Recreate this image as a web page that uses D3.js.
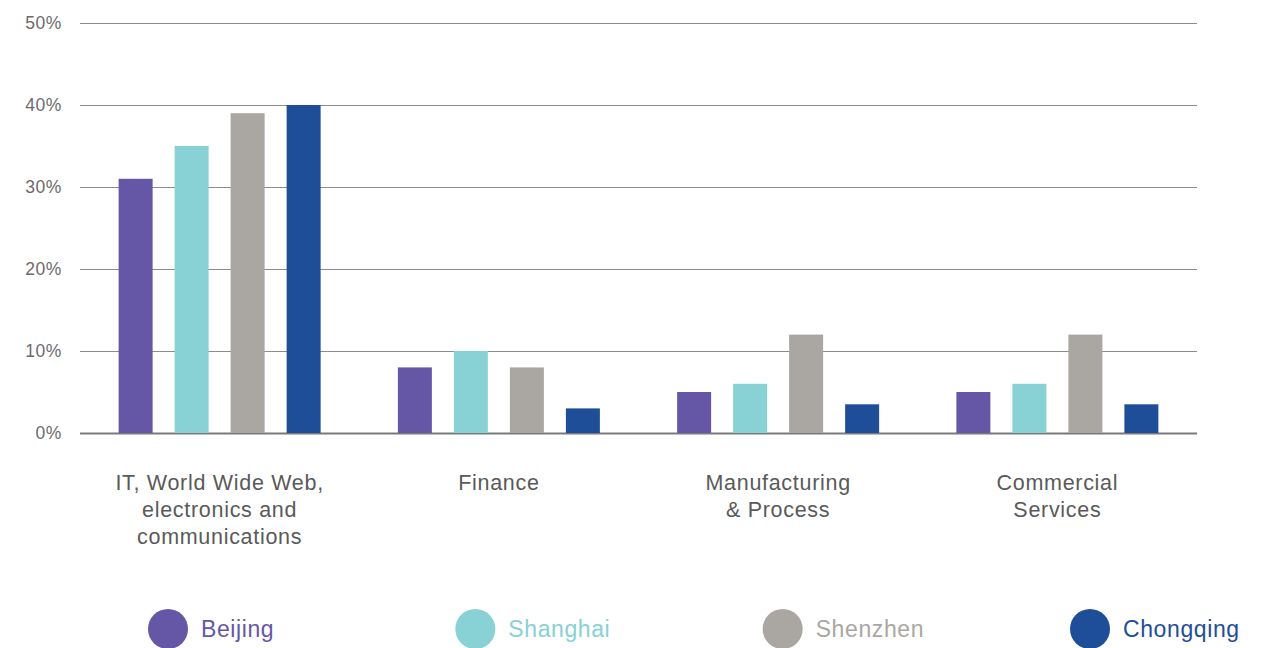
<!DOCTYPE html>
<html>
<head>
<meta charset="utf-8">
<script src="https://cdn.jsdelivr.net/npm/d3@7"></script>
<style>
  html, body { margin: 0; padding: 0; background: #fff; }
  svg { display: block; }
</style>
</head>
<body>
<svg id="chart" width="1274" height="648"></svg>
<script>
const categories = [
  ["IT, World Wide Web,", "electronics and", "communications"],
  ["Finance"],
  ["Manufacturing", "& Process"],
  ["Commercial", "Services"]
];
const seriesNames = ["Beijing", "Shanghai", "Shenzhen", "Chongqing"];
const seriesColors = ["#6657a6", "#88d1d4", "#aaa7a3", "#1f4e99"];
const beijing   = [31, 8, 5, 5];
const shanghai  = [35, 10, 6, 6];
const shenzhen  = [39, 8, 12, 12];
const chongqing = [40, 3, 3.5, 3.5];
const yTicks = [0, 10, 20, 30, 40, 50];

const seriesValues = [beijing, shanghai, shenzhen, chongqing];
const svg = d3.select("#chart");
const font = "'Liberation Sans', Helvetica, Arial, sans-serif";

const mLeft = 80, mRight = 1197, mTop = 23, mBottom = 433;
const catKeys = categories.map((c, i) => i);
const x0 = d3.scaleBand().domain(catKeys).range([mLeft, mRight]).padding(0);
const y = d3.scaleLinear().domain([0, 50]).range([mBottom, mTop]);
const groupW = 202;
const x1 = d3.scaleBand().domain(seriesNames).range([0, groupW]).paddingInner(0.393).paddingOuter(0);

// gridlines
const yAxis = d3.axisLeft(y).tickValues(yTicks).tickSize(-(mRight - mLeft)).tickFormat(d => d + "%");
const gy = svg.append("g").attr("transform", `translate(${mLeft},0)`).call(yAxis);
gy.select(".domain").remove();
gy.selectAll(".tick line").attr("stroke", "#8c8c8c").attr("stroke-width", 1.2);
gy.selectAll(".tick").filter(d => d === 0).select("line").attr("stroke", "#7a7a7a").attr("stroke-width", 2);
gy.selectAll(".tick text")
  .attr("x", -18)
  .attr("fill", "#6b6b6b")
  .style("font-family", font)
  .style("font-size", "17.5px")
  .style("letter-spacing", "0.6px");

// bars
const groups = svg.append("g").selectAll("g").data(catKeys).join("g")
  .attr("transform", d => `translate(${x0(d) + x0.bandwidth() / 2 - groupW / 2},0)`);
groups.selectAll("rect")
  .data(ci => seriesNames.map((s, si) => ({ s, si, v: seriesValues[si][ci] })))
  .join("rect")
  .attr("x", d => x1(d.s))
  .attr("width", x1.bandwidth())
  .attr("y", d => y(d.v))
  .attr("height", d => y(0) - y(d.v))
  .attr("fill", d => seriesColors[d.si]);

// category labels
const cl = svg.append("g").selectAll("text").data(catKeys).join("text")
  .attr("text-anchor", "middle")
  .attr("fill", "#5a5a5a")
  .style("font-family", font)
  .style("font-size", "21.5px")
  .style("letter-spacing", "0.7px");
cl.each(function(ci) {
  const t = d3.select(this);
  categories[ci].forEach((line, li) => {
    t.append("tspan")
      .attr("x", x0(ci) + x0.bandwidth() / 2)
      .attr("y", 490 + li * 27)
      .text(line);
  });
});

// legend
const legendX = d3.scalePoint().domain(seriesNames).range([168, 1090]);
const lg = svg.append("g").selectAll("g").data(seriesNames).join("g")
  .attr("transform", d => `translate(${legendX(d)},629)`);
lg.append("circle").attr("r", 20).attr("fill", (d, i) => seriesColors[i]);
lg.append("text")
  .attr("x", 33)
  .attr("y", 8)
  .attr("fill", (d, i) => seriesColors[i])
  .style("font-family", font)
  .style("font-size", "23px")
  .style("letter-spacing", "0.6px")
  .text(d => d);
</script>
</body>
</html>
